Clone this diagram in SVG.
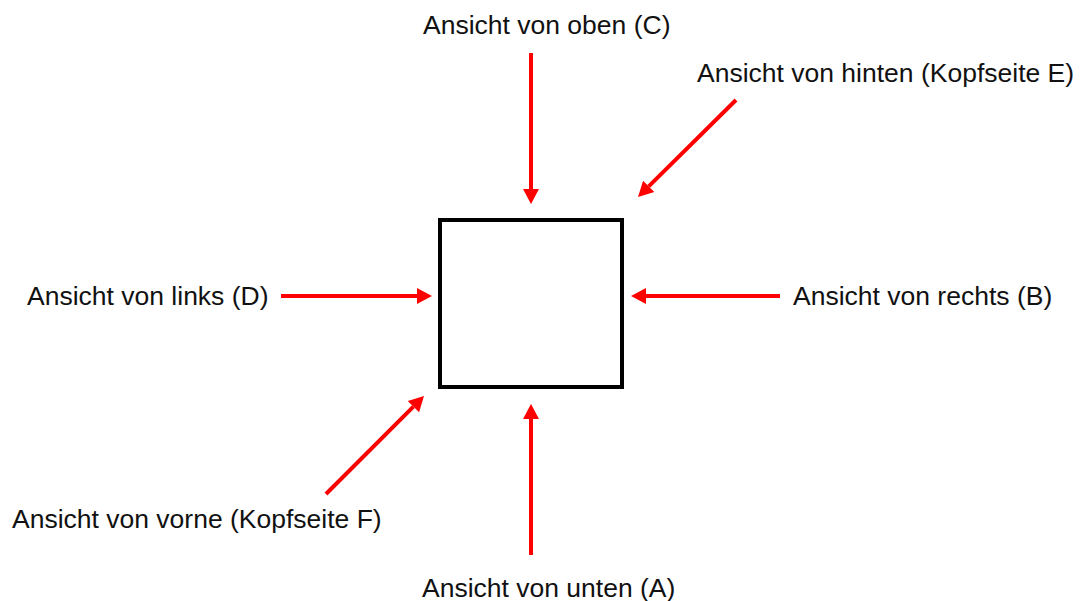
<svg xmlns="http://www.w3.org/2000/svg" width="1080" height="601" viewBox="0 0 1080 601">
<style>
text { font-family: "Liberation Sans", Arial, sans-serif; font-size: 26.5px; fill: #111; }
.arr { stroke: #ff0000; stroke-width: 4; fill: none; marker-end: url(#head); }
</style>
<defs>
<marker id="head" markerUnits="userSpaceOnUse" viewBox="0 -8 15 16" refX="0" refY="0" markerWidth="15" markerHeight="16" orient="auto" overflow="visible">
<path d="M0,-8 L15,0 L0,8 z" fill="#ff0000"/>
</marker>
</defs>
<rect width="1080" height="601" fill="#ffffff"/>
<g id="box">
<rect x="440" y="220" width="182" height="167" fill="none" stroke="#000" stroke-width="4"/>
</g>
<g id="connectors">
<line class="arr" x1="531" y1="53" x2="531" y2="189"/>
<line class="arr" x1="531" y1="555" x2="531" y2="419"/>
<line class="arr" x1="281" y1="296" x2="417" y2="296"/>
<line class="arr" x1="780" y1="296" x2="646" y2="296"/>
<line class="arr" x1="736" y1="100" x2="648.7" y2="186.4"/>
<line class="arr" x1="326" y1="494" x2="413.4" y2="406.6"/>
</g>
<g id="label-oben"><text x="423" y="34">Ansicht von oben (C)</text></g>
<g id="label-hinten"><text x="697" y="82">Ansicht von hinten (Kopfseite E)</text></g>
<g id="label-links"><text x="27" y="305">Ansicht von links (D)</text></g>
<g id="label-rechts"><text x="793" y="305">Ansicht von rechts (B)</text></g>
<g id="label-vorne"><text x="12" y="528">Ansicht von vorne (Kopfseite F)</text></g>
<g id="label-unten"><text x="422" y="597">Ansicht von unten (A)</text></g>
</svg>
